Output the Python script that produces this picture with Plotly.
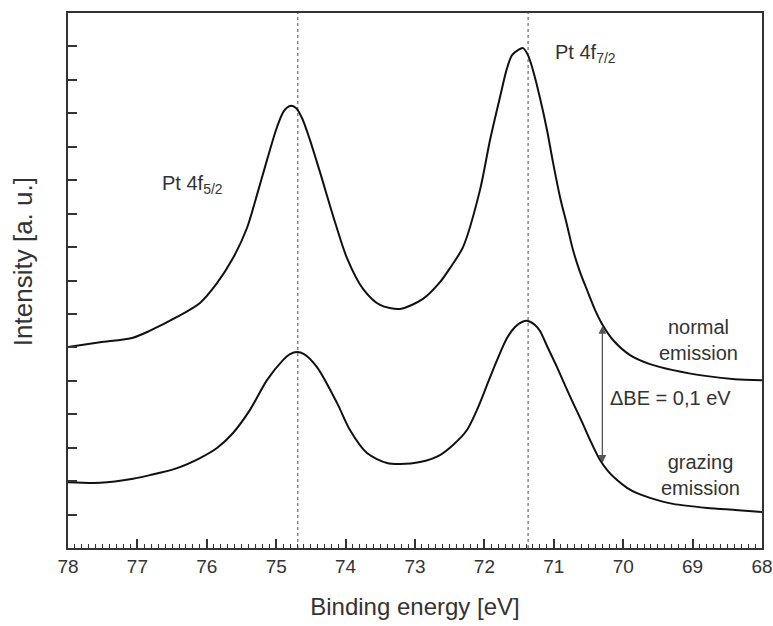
import plotly.graph_objects as go

# Binding energy (eV) and intensity (a.u.)
be_normal = [78.000, 77.539, 77.063, 76.818, 76.429, 76.098, 75.853, 75.622, 75.421, 75.277,
             75.133, 74.988, 74.888, 74.801, 74.715, 74.628, 74.513, 74.369, 74.153, 73.980,
             73.749, 73.504, 73.216, 72.885, 72.640, 72.496, 72.308, 72.063, 71.919, 71.775,
             71.674, 71.602, 71.516, 71.444, 71.372, 71.300, 71.199, 71.098, 71.012, 70.911,
             70.810, 70.723, 70.622, 70.522, 70.406, 70.305, 70.147, 69.902, 69.614, 69.282,
             68.790, 68.389, 68.000]
int_normal = [6.01, 6.15, 6.29, 6.50, 6.91, 7.33, 7.92, 8.67, 9.57, 10.56,
              11.60, 12.59, 13.07, 13.22, 13.16, 12.86, 12.20, 11.24, 9.75, 8.67,
              7.75, 7.27, 7.15, 7.45, 7.95, 8.37, 9.00, 10.71, 12.20, 13.49,
              14.35, 14.74, 14.89, 14.95, 14.74, 14.29, 13.46, 12.50, 11.54, 10.50,
              9.66, 8.91, 8.25, 7.72, 7.12, 6.70, 6.22, 5.77, 5.50, 5.32,
              5.14, 5.05, 5.02]

be_grazing = [78.000, 77.539, 77.063, 76.818, 76.429, 76.098, 75.853, 75.622, 75.378, 75.133,
              74.902, 74.801, 74.700, 74.599, 74.412, 74.124, 73.937, 73.692, 73.403, 73.216,
              72.928, 72.640, 72.452, 72.251, 72.107, 71.963, 71.818, 71.674, 71.559, 71.458,
              71.372, 71.271, 71.199, 71.084, 70.954, 70.839, 70.723, 70.594, 70.478, 70.334,
              70.219, 70.089, 69.945, 69.801, 69.614, 69.282, 68.790, 68.389, 68.000]
int_grazing = [1.97, 1.95, 2.07, 2.18, 2.39, 2.69, 2.99, 3.44, 4.13, 5.02,
               5.62, 5.80, 5.86, 5.80, 5.41, 4.34, 3.53, 2.84, 2.54, 2.51,
               2.57, 2.78, 3.08, 3.53, 4.13, 4.87, 5.62, 6.28, 6.61, 6.76,
               6.79, 6.67, 6.49, 5.98, 5.41, 4.87, 4.34, 3.77, 3.23, 2.63,
               2.30, 2.03, 1.80, 1.64, 1.50, 1.32, 1.20, 1.14, 1.08]

peak_positions = [74.69, 71.37]          # dotted reference lines
arrow_be = 70.30
arrow_range = [2.50, 6.64]               # bottom, top of Delta BE arrow

x_ticks = [78, 77, 76, 75, 74, 73, 72, 71, 70, 69, 68]

text_color = "#333333"
font_family = "Liberation Sans, Arial, sans-serif"

fig = go.Figure()
for xs, ys in [(be_normal, int_normal), (be_grazing, int_grazing)]:
    fig.add_trace(go.Scatter(x=xs, y=ys, mode="lines",
                             line=dict(color="#111111", width=2, shape="spline", smoothing=0.8),
                             showlegend=False, hoverinfo="skip"))

for p in peak_positions:
    fig.add_shape(type="line", xref="x", yref="paper", x0=p, x1=p, y0=0, y1=1,
                  line=dict(color="#888888", width=1.5, dash="dot"), layer="below")

# double-headed arrow
fig.add_annotation(x=arrow_be, y=arrow_range[1], ax=arrow_be, ay=arrow_range[0],
                   xref="x", yref="y", axref="x", ayref="y", text="",
                   showarrow=True, arrowhead=2, arrowside="end+start",
                   arrowsize=1.2, arrowwidth=1.3, arrowcolor="#555555")

ann_font = dict(family=font_family, size=20, color=text_color)
fig.add_annotation(x=76.20, y=10.86, text="Pt 4f<sub>5/2</sub>", showarrow=False,
                   xref="x", yref="y", font=ann_font)
fig.add_annotation(x=71.01, y=14.80, text="Pt 4f<sub>7/2</sub>", showarrow=False,
                   xref="x", yref="y", xanchor="left", font=ann_font)
fig.add_annotation(x=68.92, y=6.22, text="normal<br>emission", showarrow=False,
                   xref="x", yref="y", font=ann_font)
fig.add_annotation(x=70.22, y=4.49, text="\u0394BE = 0,1 eV", showarrow=False,
                   xref="x", yref="y", xanchor="left", font=ann_font)
fig.add_annotation(x=68.89, y=2.18, text="grazing<br>emission", showarrow=False,
                   xref="x", yref="y", font=ann_font)

# y-axis title
fig.add_annotation(x=-0.065, y=0.536, xref="paper", yref="paper", text="Intensity [a. u.]",
                   textangle=-90, showarrow=False, xanchor="center", yanchor="middle",
                   font=dict(family=font_family, size=26, color=text_color))

fig.update_layout(
    width=773, height=626,
    margin=dict(l=68, r=11, t=13, b=78),
    paper_bgcolor="white", plot_bgcolor="white",
    font=dict(family=font_family, color=text_color),
    xaxis=dict(range=[78, 68], tickvals=x_ticks, ticktext=[str(t) for t in x_ticks],
               ticks="inside", ticklen=9, tickwidth=1.5, tickcolor="#333333",
               minor=dict(dtick=0.1, ticks="inside", ticklen=4, tickwidth=1, tickcolor="#333333"),
               showline=True, linecolor="#333333", linewidth=2, mirror=True,
               showgrid=False, zeroline=False,
               tickfont=dict(size=19, color=text_color),
               title=dict(text="Binding energy [eV]", font=dict(size=24, color=text_color), standoff=22),
               automargin=False),
    yaxis=dict(range=[0, 16], dtick=1, tick0=0, showticklabels=False,
               ticks="inside", ticklen=9, tickwidth=1.5, tickcolor="#333333",
               showline=True, linecolor="#333333", linewidth=2, mirror=True,
               showgrid=False, zeroline=False, automargin=False),
)

fig.write_html("out.html")
